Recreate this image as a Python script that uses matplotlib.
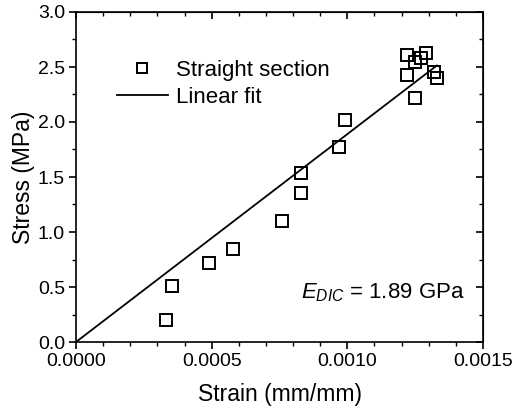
import matplotlib
matplotlib.use("Agg")
import matplotlib.pyplot as plt
import numpy as np
from matplotlib.ticker import MultipleLocator, FormatStrFormatter

plt.rcParams['font.family'] = ['Liberation Sans', 'DejaVu Sans']
plt.rcParams['mathtext.fontset'] = 'custom'
plt.rcParams['mathtext.it'] = 'Liberation Sans:italic'
plt.rcParams['mathtext.rm'] = 'Liberation Sans'

strain = [0.00033, 0.000355, 0.00049, 0.00058, 0.00076, 0.00083, 0.00083,
          0.00097, 0.00099, 0.00122, 0.00122, 0.00125, 0.00125, 0.00127,
          0.00129, 0.00132, 0.00133]
stress = [0.20, 0.51, 0.72, 0.845, 1.10, 1.35, 1.54, 1.77, 2.02, 2.61,
          2.43, 2.22, 2.55, 2.58, 2.63, 2.45, 2.40]
modulus_mpa = 1890.0
fit_x = [0.0, 0.00133]

fig = plt.figure(figsize=(5.12, 4.11), dpi=100)
ax = fig.add_axes([76/512, 1-342/411, (483-76)/512, (342-12)/411])

ax.plot(strain, stress, 's', mfc='none', mec='black', ms=9, mew=1.4,
        label='Straight section', zorder=3)
fx = np.array(fit_x)
ax.plot(fx, modulus_mpa*fx, '-', color='black', lw=1.3, label='Linear fit')

ax.set_xlim(0, 0.0015)
ax.set_ylim(0, 3.0)
ax.xaxis.set_major_locator(MultipleLocator(0.0005))
ax.xaxis.set_minor_locator(MultipleLocator(0.0001))
ax.yaxis.set_major_locator(MultipleLocator(0.5))
ax.yaxis.set_minor_locator(MultipleLocator(0.25))
ax.xaxis.set_major_formatter(FormatStrFormatter('%.4f'))
ax.yaxis.set_major_formatter(FormatStrFormatter('%.1f'))
ax.tick_params(which='major', direction='out', length=5, width=1.2, labelsize=14, pad=3)
ax.tick_params(which='minor', direction='out', length=3, width=1.0)
ax.tick_params(which='both', top=False, right=False)
for s in ax.spines.values():
    s.set_linewidth(1.2)

secy = ax.secondary_yaxis('right')
secy.yaxis.set_major_locator(MultipleLocator(0.5))
secy.yaxis.set_minor_locator(MultipleLocator(0.25))
secy.tick_params(which='major', direction='in', length=5, width=1.2, labelright=False)
secy.tick_params(which='minor', direction='in', length=3, width=1.0)
secx = ax.secondary_xaxis('top')
secx.xaxis.set_major_locator(MultipleLocator(0.0005))
secx.xaxis.set_minor_locator(MultipleLocator(0.0001))
secx.tick_params(which='major', direction='in', length=5, width=1.2, labeltop=False)
secx.tick_params(which='minor', direction='in', length=3, width=1.0)

ax.set_xlabel('Strain (mm/mm)', fontsize=16.5, labelpad=9)
ax.set_ylabel('Stress (MPa)', fontsize=16.5, labelpad=2)

ax.legend(loc='upper left', bbox_to_anchor=(0.10, 0.855), frameon=False,
          fontsize=16, handlelength=2.3, borderaxespad=0, borderpad=0,
          labelspacing=0.28, handletextpad=0.36, markerscale=0.75)

ax.text(0.956, 0.15, r'$E_{DIC}$ = 1.89 GPa', transform=ax.transAxes,
        ha='right', va='center', fontsize=16)

fig.savefig('out.png', dpi=100)
